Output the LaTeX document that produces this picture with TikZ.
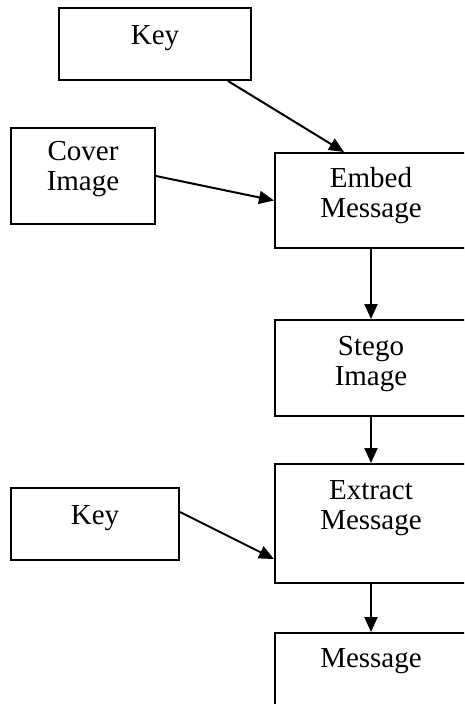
\documentclass[tikz,border=0pt]{standalone}
\usepackage{fontspec}
\setmainfont{Liberation Serif}
\usetikzlibrary{arrows.meta,calc}
\begin{document}
\begin{tikzpicture}[x=1pt,y=-1pt,
  box/.style={draw,line width=2pt,rectangle,inner sep=0pt},
  lbl/.style={font=\fontsize{29}{30}\selectfont,align=center,inner sep=0pt},
  arr/.style={line width=2pt,-{Triangle[length=15pt,width=13pt]}}]
\useasboundingbox (0,0) rectangle (464,704);
\clip (0,0) rectangle (464,704);
% boxes
\node[box,minimum width=192pt,minimum height=72pt] (key1) at (155,44) {};
\node[box,minimum width=144pt,minimum height=96pt] (cover) at (83,176) {};
\node[box,minimum width=192pt,minimum height=95pt] (embed) at (371,200.5) {};
\node[box,minimum width=192pt,minimum height=96pt] (stego) at (371,368) {};
\node[box,minimum width=192pt,minimum height=119pt] (extract) at (371,523.5) {};
\node[box,minimum width=168pt,minimum height=72pt] (key2) at (95,524) {};
\node[box,minimum width=192pt,minimum height=80pt] (msg) at (371,673) {};
% texts
\node[lbl] (t1) at (155,38) {Key};
\node[lbl] (t2) at (83,169) {Cover\\Image};
\node[lbl] (t3) at (371,196) {Embed\\Message};
\node[lbl] (t4) at (371,364) {Stego\\Image};
\node[lbl] (t5) at (371,508) {Extract\\Message};
\node[lbl] (t6) at (95,518) {Key};
\node[lbl] (t7) at (371,661) {Message};
% arrows
\draw[arr] ($(key1.south east)+(-24,0)$) -- ($(embed.north west)+(70,0)$);
\draw[arr] (cover.east) -- (embed.west);
\draw[arr] (embed.south) -- (stego.north);
\draw[arr] (stego.south) -- (extract.north);
\draw[arr] ($(key2.east)+(0,-12)$) -- ($(extract.west)+(0,35.5)$);
\draw[arr] (extract.south) -- (msg.north);
\end{tikzpicture}
\end{document}
